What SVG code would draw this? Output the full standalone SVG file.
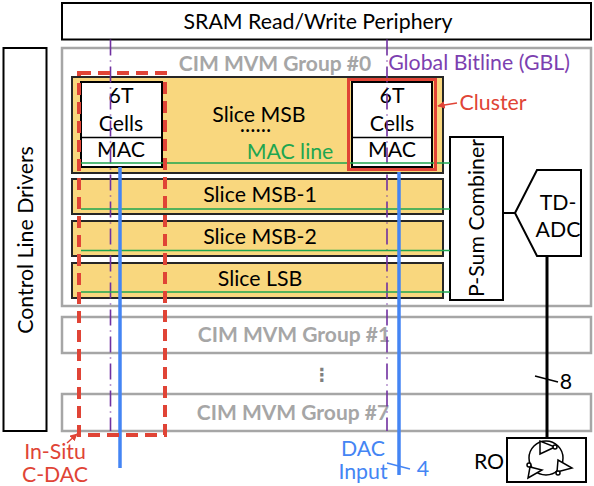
<svg xmlns="http://www.w3.org/2000/svg" width="594" height="486" viewBox="0 0 594 486">
<style>
text{font-family:Lato,"Open Sans","Liberation Sans",sans-serif;text-anchor:middle;fill:#000;font-size:21.300px}
.box{fill:#fff;stroke:#000;stroke-width:2}
.grp{fill:#fff;stroke:#a6a6a6;stroke-width:2.500}
text.gt{fill:#a6a6a6;font-weight:700;font-size:21px}
.sl{fill:#f9d77e;stroke:#262626;stroke-width:2}
.mac{stroke:#1fa650;stroke-width:1.600;fill:none}
.gbl{stroke:#7030a0;stroke-width:1.600;fill:none;stroke-dasharray:16 5 1 5}
.dac{stroke:#4485f4;stroke-width:3.500;fill:none}
.red{stroke:#e04436;fill:none}
.thin{stroke:#000;stroke-width:1.500;fill:#fff}
text.r{fill:#e04436}
text.b{fill:#4485f4}
text.p{fill:#7c3fb0}
text.g{fill:#1fa650}
</style>
<defs>
<marker id="ra" viewBox="0 0 10 10" refX="9" refY="5" markerWidth="5" markerHeight="5" orient="auto"><path d="M0 0L10 5L0 10Z" fill="#e04436"/></marker>
</defs>
<g id="sram"><rect class="box" x="62" y="3" width="529" height="36.500"/><text x="318" y="29">SRAM Read/Write Periphery</text></g>
<g id="drivers"><rect class="box" x="3.500" y="48" width="43" height="383"/><text transform="translate(33 240) rotate(-90)">Control Line Drivers</text></g>
<g id="group0"><rect class="grp" x="62" y="48" width="529" height="258"/><text class="gt" x="275" y="71">CIM MVM Group #0</text></g>
<g id="group1"><rect class="grp" x="62" y="317" width="529" height="36"/><text class="gt" x="294" y="342">CIM MVM Group #1</text></g>
<g id="group7"><rect class="grp" x="62" y="394" width="529" height="37"/><text class="gt" x="293" y="420">CIM MVM Group #7</text></g>
<g id="slice-msb"><rect class="sl" x="72" y="77" width="371" height="96"/><text x="259" y="122">Slice MSB</text><text x="256" y="132" style="font-weight:700;font-size:18px;letter-spacing:1px">......</text></g>
<g id="slice-msb1"><rect class="sl" x="72" y="179" width="371" height="35"/><text x="260" y="202">Slice MSB-1</text></g>
<g id="slice-msb2"><rect class="sl" x="72" y="221" width="371" height="35"/><text x="260" y="244">Slice MSB-2</text></g>
<g id="slice-lsb"><rect class="sl" x="72" y="263" width="371" height="35"/><text x="260" y="286">Slice LSB</text></g>
<g id="cell-left"><rect class="box" x="81" y="82" width="81" height="85"/><path d="M81 137.500H162" stroke="#000" stroke-width="1.500"/><text x="121" y="103">6T</text><text x="121" y="131">Cells</text><text x="121" y="157">MAC</text></g>
<g id="cell-right"><rect class="box" x="352" y="82" width="80" height="85"/><path d="M352 137.500H432" stroke="#000" stroke-width="1.500"/><text x="392" y="103">6T</text><text x="392" y="131">Cells</text><text x="392" y="157">MAC</text></g>
<g id="combiner"><rect class="box" x="450" y="137" width="53" height="163"/><text transform="translate(484 218) rotate(-90)">P-Sum Combiner</text></g>
<g id="tdadc"><path class="box" d="M515 213L537 170H581V256H537Z"/><text x="558" y="210">TD-</text><text x="558" y="237">ADC</text></g>
<g id="ro"><rect class="box" x="507" y="438" width="79" height="44"/>
<circle cx="546" cy="458" r="17" fill="none" stroke="#000" stroke-width="1.500"/>
<path class="thin" d="M540 441V454L555 447Z"/><circle class="thin" cx="555" cy="447" r="2"/>
<path class="thin" d="M558 460L557 472L572 468Z"/><circle class="thin" cx="558" cy="473" r="2"/>
<path class="thin" d="M530 467L528 478L542 470Z"/><circle class="thin" cx="529" cy="465" r="2"/>
<text x="489" y="469">RO</text></g>
<g id="connectors">
<path class="gbl" d="M110.500 39.500V431"/>
<path class="gbl" d="M387 39.500V431"/>
<path class="mac" d="M81 163H450M81 209H450M81 250.500H450M81 292H450"/>
<path class="dac" d="M120 167V468"/>
<path class="dac" d="M399 172V475"/>
<path d="M387 463L410 469" fill="none" stroke="#4485f4" stroke-width="1.500"/>
<path d="M503 213H515" fill="none" stroke="#000" stroke-width="2"/>
<path d="M547 256V438" fill="none" stroke="#000" stroke-width="3"/>
<path d="M535 376L558 382" fill="none" stroke="#000" stroke-width="1.500"/>
<rect class="red" x="79" y="73" width="86" height="362" stroke-width="4" stroke-dasharray="12 7"/>
<rect class="red" x="348.500" y="79.500" width="87" height="90" stroke-width="3"/>
<path class="red" d="M457 103L438 106" stroke-width="1.500" marker-end="url(#ra)"/>
<path class="red" d="M67 443L77 434" stroke-width="1.500" marker-end="url(#ra)"/>
</g>
<g id="labels">
<text class="p" x="479" y="70">Global Bitline (GBL)</text>
<text class="g" x="290" y="159">MAC line</text>
<text class="r" x="493" y="110">Cluster</text>
<text class="r" x="55" y="459">In-Situ</text>
<text class="r" x="55" y="482">C-DAC</text>
<text class="b" x="363" y="456">DAC</text>
<text class="b" x="363" y="479">Input</text>
<text class="b" x="423" y="476">4</text>
<text x="566" y="389">8</text>
<text x="322" y="381" style="fill:#7f7f7f;font-weight:700;font-family:'DejaVu Sans',sans-serif;font-size:18px">⋮</text>
</g>
</svg>
